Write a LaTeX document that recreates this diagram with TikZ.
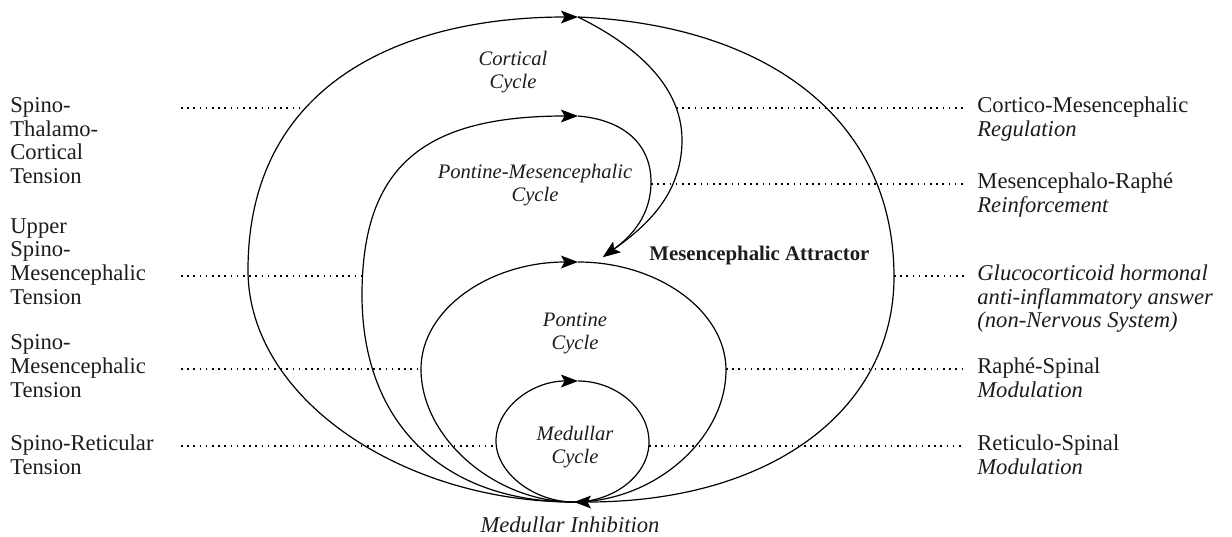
\documentclass[tikz,border=0pt]{standalone}
\usepackage{fontspec}
\setmainfont{Liberation Serif}
\usetikzlibrary{arrows.meta}
\definecolor{ink}{RGB}{30,27,28}
\newcommand{\lstack}[1]{\begin{tabular}[t]{@{}l@{}}#1\end{tabular}}
\newcommand{\cstack}[1]{\begin{tabular}[t]{@{}c@{}}#1\end{tabular}}
\begin{document}
\begin{tikzpicture}[x=0.5pt,y=-0.5pt,
  flow/.style={line width=0.6pt, black},
  tip/.style={-{Stealth[length=8.5pt,width=6.4pt,inset=1.8pt]}},
  guide/.style={line width=0.8pt, dash pattern=on 0.8pt off 2.3pt, black},
  lbl/.style={inner sep=0pt, text=ink, font=\fontsize{11.3}{11.8}\selectfont},
  cyc/.style={inner sep=0pt, text=ink, font=\fontsize{10.3}{11.5}\selectfont\itshape},
  attr/.style={inner sep=0pt, text=ink, font=\fontsize{10.4}{12}\selectfont\bfseries},
]
\useasboundingbox (0,0) rectangle (1232,536);

% meeting points of the loops
\coordinate (B)  at (574,502);   % medulla, bottom
\coordinate (T1) at (578,17);    % cortical top
\coordinate (T2) at (578,116);   % pontine-mesencephalic top
\coordinate (T3) at (578,262);   % pontine top
\coordinate (T4) at (578,381);   % medullar top
\coordinate (A)  at (603,257);   % mesencephalic attractor
% extreme points of the loops
\coordinate (oL)  at (248,270);
\coordinate (oR)  at (894,277);
\coordinate (pmL) at (362,295);
\coordinate (pmR) at (651,182);
\coordinate (ctR) at (682,140);
\coordinate (pL)  at (421,369);
\coordinate (pR)  at (726,370);
\coordinate (mL)  at (496,441);
\coordinate (mR)  at (649,442);

% outer (cortical) loop
\draw[flow,tip] (B) .. controls (405,502) and (248,400) .. (oL)
                    .. controls (248,85) and (400,17) .. (T1);
\draw[flow,tip] (T1) .. controls (765,25) and (894,117) .. (oR)
                     .. controls (894,407) and (775,502) .. (B);
% cortical branch into the attractor
\draw[flow,tip] (T1) .. controls (625,40) and (682,80) .. (ctR)
                     .. controls (682,197) and (642,229) .. (A);

% pontine-mesencephalic loop
\draw[flow,tip] (B) .. controls (445,502) and (362,425) .. (pmL)
                    .. controls (362,165) and (425,116) .. (T2);
\draw[flow,tip] (T2) .. controls (625,120) and (651,145) .. (pmR)
                     .. controls (651,215) and (632,236) .. (A);

% pontine loop
\draw[flow,tip] (B) .. controls (495,502) and (421,438) .. (pL)
                    .. controls (421,309) and (490,262) .. (T3);
\draw[flow] (T3) .. controls (658,262) and (726,311) .. (pR)
                 .. controls (726,439) and (654,502) .. (B);

% medullar loop
\draw[flow,tip] (B) .. controls (534,502) and (496,473) .. (mL)
                    .. controls (496,408) and (532,381) .. (T4);
\draw[flow] (T4) .. controls (616,381) and (649,409) .. (mR)
                 .. controls (649,475) and (614,502) .. (B);

% dotted level guides
\coordinate (gl1) at (181,108); \coordinate (el1) at (301,108);
\coordinate (gl2) at (181,276); \coordinate (el2) at (362,276);
\coordinate (gl3) at (181,369); \coordinate (el3) at (421,369);
\coordinate (gl4) at (181,446); \coordinate (el4) at (496,446);
\coordinate (er1) at (676,108); \coordinate (gr1) at (965,108);
\coordinate (er2) at (651,184); \coordinate (gr2) at (965,184);
\coordinate (er3) at (894,276); \coordinate (gr3) at (965,276);
\coordinate (er4) at (726,369); \coordinate (gr4) at (965,369);
\coordinate (er5) at (649,446); \coordinate (gr5) at (965,446);
\foreach \a/\b in {gl1/el1,gl2/el2,gl3/el3,gl4/el4,er1/gr1,er2/gr2,er3/gr3,er4/gr4,er5/gr5}
  \draw[guide] (\a) -- (\b);

% cycle names
\node[cyc,anchor=base] (cortical) at (513,65)  {\cstack{Cortical\\Cycle}};
\node[cyc,anchor=base] (ponmes)   at (535,178) {\cstack{Pontine-Mesencephalic\\Cycle}};
\node[cyc,anchor=base] (pontine)  at (575,326) {\cstack{Pontine\\Cycle}};
\node[cyc,anchor=base] (medullar) at (575,440) {\cstack{Medullar\\Cycle}};
\node[attr,anchor=base west] (attractor) at (649,260) {Mesencephalic Attractor};
\node[lbl,anchor=base,font=\fontsize{11.3}{11.8}\selectfont\itshape] (inhib) at (570,532) {Medullar Inhibition};

% ascending tensions
\node[lbl,anchor=base west] (tl1) at (10,112.5) {\lstack{Spino-\\Thalamo-\\Cortical\\Tension}};
\node[lbl,anchor=base west] (tl2) at (10,233.3) {\lstack{Upper\\Spino-\\Mesencephalic\\Tension}};
\node[lbl,anchor=base west] (tl3) at (10,349.9) {\lstack{Spino-\\Mesencephalic\\Tension}};
\node[lbl,anchor=base west] (tl4) at (10,450.5) {\lstack{Spino-Reticular\\Tension}};

% descending answers
\node[lbl,anchor=base west] (tr1) at (977,112.5) {\lstack{Cortico-Mesencephalic\\\textit{Regulation}}};
\node[lbl,anchor=base west] (tr2) at (977,188.5) {\lstack{Mesencephalo-Raphé\\\textit{Reinforcement}}};
\node[lbl,anchor=base west] (tr3) at (977,280.5) {\lstack{\textit{Glucocorticoid hormonal}\\\textit{anti-inflammatory answer}\\\textit{(non-Nervous System)}}};
\node[lbl,anchor=base west] (tr4) at (977,373.5) {\lstack{Raphé-Spinal\\\textit{Modulation}}};
\node[lbl,anchor=base west] (tr5) at (977,450.5) {\lstack{Reticulo-Spinal\\\textit{Modulation}}};
\end{tikzpicture}
\end{document}
